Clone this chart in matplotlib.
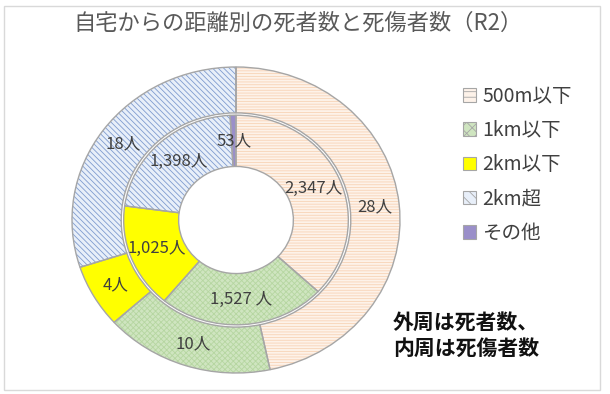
import matplotlib
matplotlib.use("Agg")
import matplotlib.pyplot as plt
import matplotlib.patches as mpatches
import numpy as np

plt.rcParams['font.family'] = ['Noto Sans CJK JP', 'DejaVu Sans']
plt.rcParams['hatch.linewidth'] = 0.6

# data
categories = ["500m以下", "1km以下", "2km以下", "2km超", "その他"]
deaths = [28, 10, 4, 18, 0]                   # outer ring
casualties = [2347, 1527, 1025, 1398, 53]     # inner ring
outer_labels = ["28人", "10人", "4人", "18人", ""]
inner_labels = ["2,347人", "1,527 人", "1,025人", "1,398人", "53人"]

face_colors = ["#FDF2E9", "#CFE5C0", "#FFFF00", "#E8EFF9", "#9A8FC9"]
hatch_colors = ["#F8D3B6", "#B6D6A1", "#FFFF00", "#7F9BCF", "#9A8FC9"]
hatches = ["------", "xxxxxx", "", "\\\\\\\\\\\\", ""]
edge_gray = "#A6A6A6"
text_col = "#404040"

W, H = 610, 394
fig = plt.figure(figsize=(W / 100, H / 100), dpi=100)

# donut centre (236, 220) px, radius 164 px wide / 153 px tall
cx, cy, rx, ry = 236, 220, 164, 153
lim = 1.1
ax = fig.add_axes([(cx - lim * rx) / W, (H - cy - lim * ry) / H,
                   2 * lim * rx / W, 2 * lim * ry / H])

r_out, w_out = 1.0, 0.30
r_in, w_in = 0.685, 0.335


def ring(values, radius, width):
    # filled + hatched pass
    wedges, _ = ax.pie(values, radius=radius, startangle=90, counterclock=False,
                       wedgeprops=dict(width=width, linewidth=0))
    for w, fc, hc, h in zip(wedges, face_colors, hatch_colors, hatches):
        w.set_facecolor(fc)
        w.set_edgecolor(hc)
        w.set_hatch(h)
        w.set_linewidth(0)
    # outline pass
    ax.pie(values, radius=radius, startangle=90, counterclock=False,
           wedgeprops=dict(width=width, facecolor="none",
                           edgecolor=edge_gray, linewidth=1.0))
    return wedges


outer_w = ring(deaths, r_out, w_out)
inner_w = ring(casualties, r_in, w_in)

for wedges, labels, radius, width in [(outer_w, outer_labels, r_out, w_out),
                                      (inner_w, inner_labels, r_in, w_in)]:
    for w, lab in zip(wedges, labels):
        if not lab:
            continue
        ang = np.deg2rad((w.theta1 + w.theta2) / 2)
        rr = radius - width / 2
        ax.text(rr * np.cos(ang), rr * np.sin(ang), lab, ha="center", va="center",
                fontsize=12, color=text_col)

ax.set_aspect("auto")
ax.set_xlim(-lim, lim)
ax.set_ylim(-lim, lim)
ax.axis("off")

fig.text(298 / W, 1 - 23 / H, "自宅からの距離別の死者数と死傷者数（R2）",
         ha="center", va="center", fontsize=16, color="#595959")

handles = [mpatches.Patch(facecolor=fc, edgecolor=edge_gray, hatch=h, linewidth=0.8)
           for fc, h in zip(face_colors, ["---", "xxx", "", "\\\\\\", ""])]
fig.legend(handles, categories, loc="upper left",
           bbox_to_anchor=(453 / W, 1 - 76 / H), bbox_transform=fig.transFigure,
           frameon=False, fontsize=14, labelcolor=text_col,
           handlelength=0.7, handleheight=0.7, handletextpad=0.3,
           labelspacing=0.68, borderpad=0)

fig.text(393 / W, 1 - 335 / H, "外周は死者数、\n内周は死傷者数", ha="left", va="center",
         fontsize=15, fontweight="bold", color="#111111", linespacing=1.3)

fig.patches.append(mpatches.Rectangle((4 / W, 4 / H), 596 / W, 384 / H,
                                      transform=fig.transFigure, fill=False,
                                      edgecolor="#D9D9D9", linewidth=1))

fig.savefig("out.png", dpi=100)
